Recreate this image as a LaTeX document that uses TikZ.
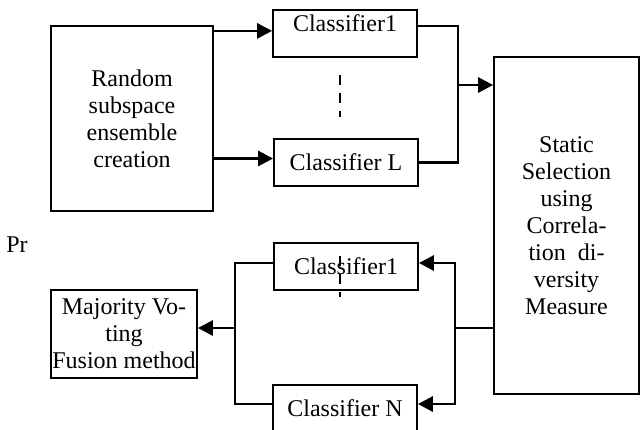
\documentclass[tikz,border=0pt]{standalone}
\usepackage{fontspec}
\setmainfont{Liberation Serif}
\usepackage{tikz}
\usetikzlibrary{calc,arrows.meta}
\tikzset{
  boxS/.style  ={draw=black, line width=0.9pt, align=center, inner sep=0pt},
  clS/.style   ={boxS, minimum width=72pt, minimum height=23.5pt},
  linkS/.style ={line width=1.4pt},
  arrS/.style  ={linkS, -{Triangle[length=7.5pt,width=7.5pt]}},
  dashS/.style ={line width=1.4pt, dash pattern=on 5pt off 4pt},
}

\begin{document}
\begin{tikzpicture}[x=0.5pt,y=-0.5pt,font=\fontsize{12}{13.5}\selectfont]
  \useasboundingbox (0,0) rectangle (640,429);
  \node[boxS, minimum width=81pt, minimum height=92.5pt] (rand) at (132,118.5)
       {Random\\subspace\\ensemble\\creation};
  \node[clS, anchor=north, text height=7.9pt, text depth=9.6pt, inner ysep=3pt] (cl1a) at (345,9) {Classifier1};
  \node[clS] (clL)  at (346,162.5) {Classifier L};
  \node[clS] (cl1b) at (346,266.5) {Classifier1};
  \node[clS] (clN)  at (345,408.5) {Classifier N};
  \node[boxS, minimum width=72.5pt, minimum height=168.5pt] (static) at (566.5,225.5)
       {Static\\Selection\\using\\Correla-\\tion\ \ di-\\versity\\Measure};
  \node[boxS, minimum width=73pt, minimum height=44pt] (maj) at (124,334)
       {Majority Vo-\\ting\\Fusion method};
  \node (pr) at (17,245) {Pr};
  % connector ends
  \coordinate (in1)  at ([yshift=1.25pt]cl1a.west);
  \coordinate (inL)  at ([yshift=2pt]clL.west);
  \coordinate (out1) at ([yshift=3.75pt]cl1a.east);
  \coordinate (b1e)  at ([yshift=1.75pt]cl1b.east);
  \coordinate (bNe)  at ([yshift=2.25pt]clN.east);
  \coordinate (b1w)  at ([yshift=1.75pt]cl1b.west);
  \coordinate (bNw)  at ([yshift=2.25pt]clN.west);
  % junctions
  \coordinate (jin)  at (458,85);
  \coordinate (jout) at (455,328);
  \coordinate (jmaj) at (235,328);
  % top half
  \draw[arrS] (rand.east |- in1) -- (in1);
  \draw[arrS] (rand.east |- inL) -- (inL);
  \draw[linkS] (out1) -| (jin) |- (clL.east);
  \draw[arrS] (jin) -- (jin -| static.west);
  \draw[dashS] (340,75) -- (340,117);
  % bottom half
  \draw[linkS] (static.west |- jout) -- (jout);
  \draw[arrS] (jout) |- (b1e);
  \draw[arrS] (jout) |- (bNe);
  \draw[linkS] (b1w) -| (jmaj) |- (bNw);
  \draw[arrS] (jmaj) -- (jmaj -| maj.east);
  \draw[dashS] (340,256) -- (340,297);
\end{tikzpicture}
\end{document}
